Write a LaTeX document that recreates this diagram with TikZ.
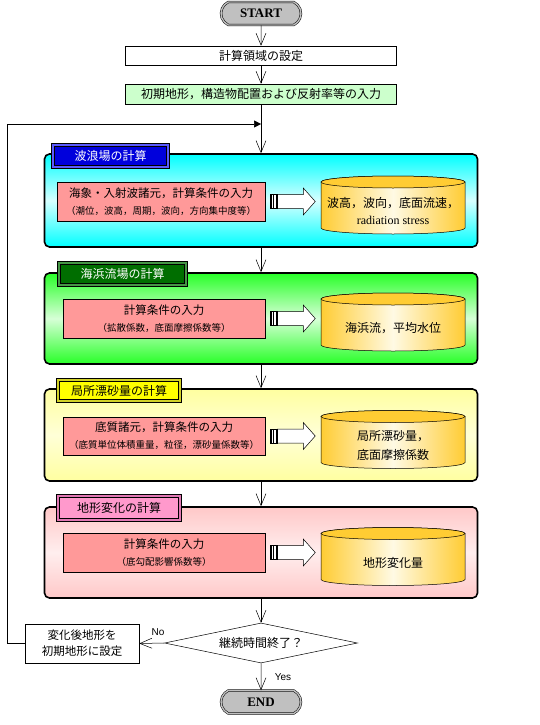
\documentclass[tikz,border=0pt]{standalone}
\usepackage{fontspec}
\setmainfont{Noto Sans CJK JP}
\newfontfamily\romanfont{Liberation Serif}
\newfontfamily\latinsans{Liberation Sans}
\usetikzlibrary{arrows.meta,shapes.geometric,shapes.misc}

\definecolor{termgray}{RGB}{192,192,192}
\definecolor{initgreen}{RGB}{204,255,204}
\definecolor{inpink}{RGB}{255,153,153}
\definecolor{drumgold}{RGB}{255,204,51}
\definecolor{drumcream}{RGB}{255,250,228}
\definecolor{wavecyan}{RGB}{0,255,255}
\definecolor{wavepale}{RGB}{215,255,255}
\definecolor{wavetab}{RGB}{0,0,220}
\definecolor{wavebevel}{RGB}{90,90,255}
\definecolor{flowgreen}{RGB}{40,255,40}
\definecolor{flowpale}{RGB}{215,255,215}
\definecolor{flowtab}{RGB}{0,110,0}
\definecolor{flowbevel}{RGB}{70,150,70}
\definecolor{sedyellow}{RGB}{255,255,160}
\definecolor{sedpale}{RGB}{255,255,215}
\definecolor{sedtab}{RGB}{255,255,0}
\definecolor{sedbevel}{RGB}{210,210,40}
\definecolor{morphpink}{RGB}{255,200,200}
\definecolor{morphpale}{RGB}{255,238,238}
\definecolor{morphtab}{RGB}{255,153,204}
\definecolor{morphbevel}{RGB}{225,120,180}

\begin{document}
\begin{tikzpicture}[x=1pt, y=-1pt,
  every node/.style={font=\fontsize{12}{14}\selectfont},
  >={Straight Barb[length=12pt,width=10pt]},
  terminal/.style={rounded rectangle, rounded rectangle arc length=130, draw, line width=0.5pt,
    double=termgray, double distance=1.4pt, fill=termgray, minimum width=80pt, minimum height=23pt,
    inner sep=0pt, font=\romanfont\bfseries\fontsize{13}{15}\selectfont},
  plain/.style={draw, line width=0.5pt, fill=white, minimum width=271pt, inner sep=0pt},
  panel/.style={draw, line width=1.6pt, rounded corners=5pt, minimum width=433pt, inner sep=0pt},
  tabbox/.style={draw, line width=0.5pt, double distance=2.6pt, minimum height=22pt, inner sep=0pt},
  inbox/.style={draw, line width=0.5pt, fill=inpink, align=center, inner sep=0pt,
    minimum height=39pt, font=\fontsize{11.5}{17}\selectfont},
  restext/.style={align=center, minimum width=144pt, minimum height=46pt, inner sep=0pt,
    font=\fontsize{12}{17}\selectfont},
  feed/.pic={
    \draw[line width=0.5pt, fill=white] (7pt,7pt) -- (33pt,7pt) -- (33pt,13.5pt) -- (45pt,0pt)
      -- (33pt,-13.5pt) -- (33pt,-7pt) -- (7pt,-7pt) -- cycle;
    \draw[line width=0.5pt, fill=white] (0pt,-7pt) rectangle (7pt,7pt);
    \fill (0pt,-7pt) rectangle (1.6pt,7pt);
    \fill (2.8pt,-7pt) rectangle (4.2pt,7pt);
    \fill (5.4pt,-7pt) rectangle (7pt,7pt);
  },
  drum/.pic={
    \draw[line width=0.5pt, left color=drumgold, right color=drumgold, middle color=drumcream]
      (-72pt,23pt) -- (-72pt,-23pt) arc[start angle=180, end angle=360, x radius=72pt, y radius=6pt]
      -- (72pt,23pt) arc[start angle=0, end angle=180, x radius=72pt, y radius=6pt] -- cycle;
    \draw[line width=0.5pt, fill=drumgold] (0pt,23pt) ellipse[x radius=72pt, y radius=6pt];
  }]
  \path[use as bounding box, fill=white] (0,0) rectangle (540,725);

  % start and the two set-up boxes
  \node[terminal] (start) at (261,13.5) {START};
  \node[plain, minimum height=19pt] (domain) at (261,55.5) {計算領域の設定};
  \node[plain, fill=initgreen, minimum height=20pt] (init) at (261,94) {初期地形，構造物配置および反射率等の入力};
  \coordinate (merge) at (261,124);

  % the four calculation blocks
  \node[panel, top color=wavecyan, bottom color=wavecyan, middle color=wavepale, minimum height=93pt] (wave) at (261,200.5) {};
  \node[panel, top color=flowgreen, bottom color=flowgreen, middle color=flowpale, minimum height=91pt] (flow) at (261,318.5) {};
  \node[panel, top color=sedyellow, bottom color=sedyellow, middle color=sedpale, minimum height=92pt] (sed) at (261,435) {};
  \node[panel, top color=morphpink, bottom color=morphpink, middle color=morphpale, minimum height=91pt] (morph) at (261,552.5) {};

  \node[tabbox, double=wavebevel, fill=wavetab, text=white, minimum width=115pt] (wavetab) at (110.5,156) {波浪場の計算};
  \node[tabbox, double=flowbevel, fill=flowtab, text=white, minimum width=127pt] (flowtab) at (122.5,274) {海浜流場の計算};
  \node[tabbox, double=sedbevel, fill=sedtab, minimum width=122pt, minimum height=21pt] (sedtab) at (119,390.5) {局所漂砂量の計算};
  \node[tabbox, double=morphbevel, fill=morphtab, minimum width=122pt, minimum height=24pt] (morphtab) at (119,508) {地形変化の計算};

  \node[inbox, minimum width=208pt] (in1) at (161,201.5) {海象・入射波諸元，計算条件の入力\\{\fontsize{9.5}{12}\selectfont （潮位，波高，周期，波向，方向集中度等）}};
  \node[inbox, minimum width=202pt] (in2) at (164,318.5) {計算条件の入力\\{\fontsize{9.5}{12}\selectfont （拡散係数，底面摩擦係数等）}};
  \node[inbox, minimum width=202pt, minimum height=38pt] (in3) at (164,436) {底質諸元，計算条件の入力\\{\fontsize{9.5}{12}\selectfont （底質単位体積重量，粒径，漂砂量係数等）}};
  \node[inbox, minimum width=202pt] (in4) at (164,552.5) {計算条件の入力\\{\fontsize{9.5}{12}\selectfont （底勾配影響係数等）}};

  \pic at (393,205) {drum};
  \pic at (393,322) {drum};
  \pic at (393,439.5) {drum};
  \pic at (393,556.5) {drum};
  \node[restext] (res1) at (393,211) {波高，波向，底面流速，\\{\romanfont radiation stress}};
  \node[restext] (res2) at (393,328) {海浜流，平均水位};
  \node[restext] (res3) at (393,445.5) {局所漂砂量，\\[2pt]底面摩擦係数};
  \node[restext] (res4) at (393,562.5) {地形変化量};

  \pic at ([xshift=5pt]in1.east) {feed};
  \pic at ([xshift=5pt]in2.east) {feed};
  \pic at ([xshift=5pt]in3.east) {feed};
  \pic at ([xshift=5pt]in4.east) {feed};

  % end check and loop back
  \node[diamond, draw, line width=0.5pt, fill=white, aspect=4.8, inner sep=0pt,
    minimum width=193pt, minimum height=40pt] (check) at (261,643) {継続時間終了？};
  \node[plain, minimum width=114pt, minimum height=39pt, align=center,
    font=\fontsize{11.5}{16}\selectfont] (back) at (82,643.5) {変化後地形を\\初期地形に設定};
  \node[terminal] (finish) at (261,702) {END};
  \node[font=\latinsans\fontsize{10}{12}\selectfont] (nolabel) at (158,632) {No};
  \node[font=\latinsans\fontsize{10}{12}\selectfont] (yeslabel) at (283,677) {Yes};

  \draw[->, line width=0.5pt] (start) -- (domain);
  \draw[->, line width=0.5pt] (domain) -- (init);
  \draw[->, line width=0.5pt] (init) -- (wave);
  \draw[->, line width=0.5pt] (wave) -- (flow);
  \draw[->, line width=0.5pt] (flow) -- (sed);
  \draw[->, line width=0.5pt] (sed) -- (morph);
  \draw[->, line width=0.5pt] (morph) -- (check);
  \draw[->, line width=0.5pt] (check) -- (finish);
  \draw[->, line width=0.5pt] (check.west) -- (back.east);
  \draw[-{Triangle[length=7pt,width=7pt]}, line width=0.5pt] (back.west) -- ++(-18,0) |- (merge);
\end{tikzpicture}
\end{document}
